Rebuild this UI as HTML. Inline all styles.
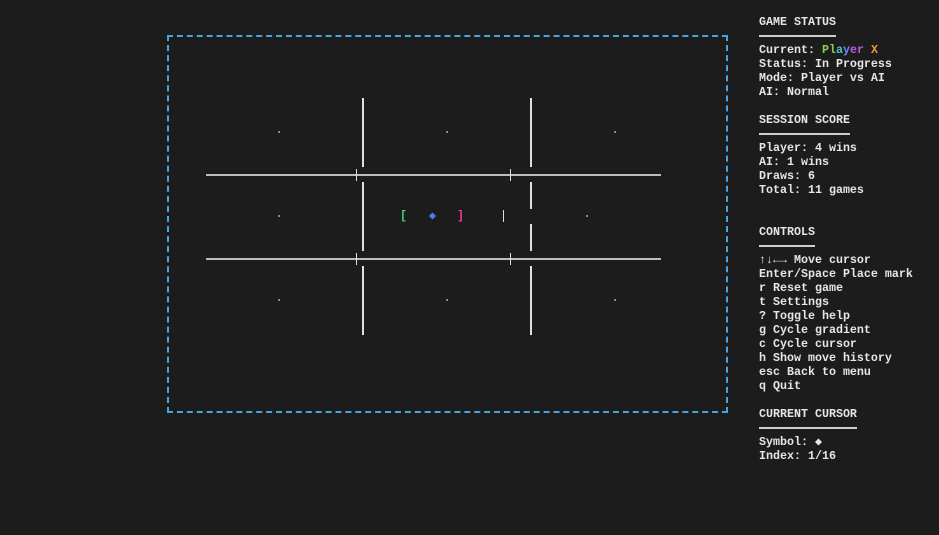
<!DOCTYPE html>
<html><head><meta charset="utf-8"><style>
body{margin:0;width:939px;height:535px;background:#1c1c1c;overflow:hidden;position:relative;font-family:"Liberation Mono","DejaVu Sans Mono",monospace;}
.abs{position:absolute}
#board{left:167px;top:35px;width:557px;height:374px;border:2px dashed #4aa3e0;}
.v{position:absolute;width:2px;background:#e0e0e0}
.h{position:absolute;height:2px;background:#bdbdbd}
.t{position:absolute;width:1px;height:12px;background:#e0e0e0}
.d{position:absolute;width:2px;height:2px;background:#8a8a8a}
#panel{left:759px;top:15px;font-size:11.67px;line-height:14px;color:#e6e6e6;white-space:pre;font-weight:bold;}
.ul{display:inline-block;border-top:2px solid #cfcfcf;vertical-align:middle}
</style></head><body>
<div id="board" class="abs"></div>
<div>
<div class="v" style="left:362px;top:98px;height:69px"></div>
<div class="v" style="left:362px;top:182px;height:69px"></div>
<div class="v" style="left:362px;top:266px;height:69px"></div>
<div class="v" style="left:530px;top:98px;height:69px"></div>
<div class="v" style="left:530px;top:182px;height:27px"></div>
<div class="v" style="left:530px;top:224px;height:27px"></div>
<div class="v" style="left:530px;top:266px;height:69px"></div>
<div class="h" style="left:206px;top:174px;width:455px"></div>
<div class="h" style="left:206px;top:258px;width:455px"></div>
<div class="t" style="left:356px;top:169px"></div>
<div class="t" style="left:510px;top:169px"></div>
<div class="t" style="left:356px;top:253px"></div>
<div class="t" style="left:510px;top:253px"></div>
<div class="t" style="left:503px;top:210px"></div>
<div class="d" style="left:278px;top:131px"></div><div class="d" style="left:446px;top:131px"></div><div class="d" style="left:614px;top:131px"></div>
<div class="d" style="left:278px;top:215px"></div><div class="d" style="left:586px;top:215px"></div>
<div class="d" style="left:278px;top:299px"></div><div class="d" style="left:446px;top:299px"></div><div class="d" style="left:614px;top:299px"></div>
</div>
<div class="abs" style="left:400px;top:208px;font-size:11.67px;line-height:16px;font-weight:bold"><span style="color:#4fd06a">[</span><span style="color:#4a7cf5;position:absolute;left:29px">◆</span><span style="color:#e8408f;position:absolute;left:57px">]</span></div>
<div id="panel" class="abs">GAME STATUS
<span class="ul" style="width:77px"></span>
Current: <span style="color:#8bd04a">Pl</span><span style="color:#4ac0c0">a</span><span style="color:#6a8af5">y</span><span style="color:#b060e0">er</span> <span style="color:#e89a30">X</span>
Status: In Progress
Mode: Player vs AI
AI: Normal

SESSION SCORE
<span class="ul" style="width:91px"></span>
Player: 4 wins
AI: 1 wins
Draws: 6
Total: 11 games


CONTROLS
<span class="ul" style="width:56px"></span>
↑↓←→ Move cursor
Enter/Space Place mark
r Reset game
t Settings
? Toggle help
g Cycle gradient
c Cycle cursor
h Show move history
esc Back to menu
q Quit

CURRENT CURSOR
<span class="ul" style="width:98px"></span>
Symbol: ◆
Index: 1/16</div>
</body></html>
